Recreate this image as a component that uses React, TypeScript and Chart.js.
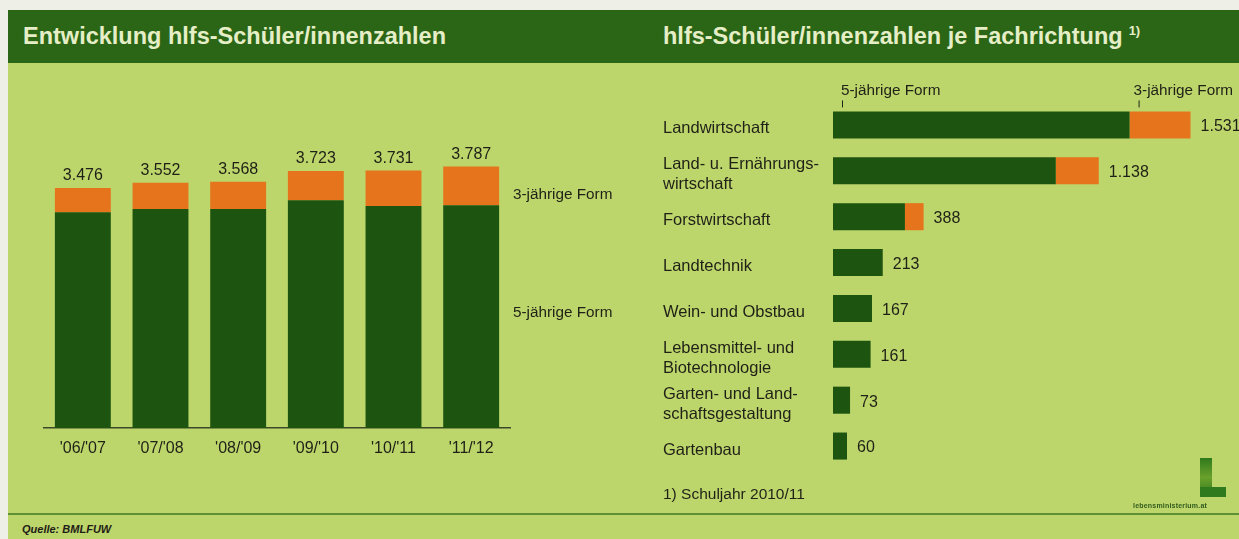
import React, { useEffect, useRef } from "react";
import { Chart, registerables } from "chart.js";

Chart.register(...registerables);

// ---------- data ----------
const schoolYears = ["'06/'07", "'07/'08", "'08/'09", "'09/'10", "'10/'11", "'11/'12"];
const fiveYearForm = [3125, 3170, 3170, 3300, 3215, 3225];
const threeYearForm = [351, 382, 398, 423, 516, 562];

const fields = [
  ["Landwirtschaft"],
  ["Land- u. Ernährungs-", "wirtschaft"],
  ["Forstwirtschaft"],
  ["Landtechnik"],
  ["Wein- und Obstbau"],
  ["Lebensmittel- und", "Biotechnologie"],
  ["Garten- und Land-", "schaftsgestaltung"],
  ["Gartenbau"],
];
const fieldFiveYear = [1270, 954, 308, 213, 167, 161, 73, 60];
const fieldThreeYear = [261, 184, 80, 0, 0, 0, 0, 0];

const seriesNames = ["5-jährige Form", "3-jährige Form"];

// ---------- style ----------
const DARK = "#1d5510";
const ORANGE = "#e5741d";
const BG = "#bdd66c";
const HEADER = "#2b6616";
const TEXT = "#1f2016";
const AXIS = "#3a4a28";
const FAMILY = '"Liberation Sans", Arial, Helvetica, sans-serif';

function fmt(n: number): string {
  return String(n).replace(/\B(?=(\d{3})+(?!\d))/g, ".");
}

function LeftChart() {
  const ref = useRef<HTMLCanvasElement | null>(null);
  useEffect(() => {
    if (!ref.current) return;
    const totalsPlugin = {
      id: "leftTotals",
      afterDatasetsDraw(chart: any) {
        const ctx = chart.ctx;
        const meta = chart.getDatasetMeta(1);
        ctx.save();
        ctx.font = `16px ${FAMILY}`;
        ctx.fillStyle = TEXT;
        ctx.textAlign = "center";
        ctx.textBaseline = "bottom";
        meta.data.forEach((el: any, i: number) => {
          const total = fiveYearForm[i] + threeYearForm[i];
          ctx.fillText(fmt(total), el.x, el.y - 4);
        });
        ctx.restore();
      },
    };
    const chart = new Chart(ref.current, {
      type: "bar",
      data: {
        labels: schoolYears,
        datasets: [
          { label: seriesNames[0], data: fiveYearForm, backgroundColor: DARK, barPercentage: 0.72, categoryPercentage: 1 },
          { label: seriesNames[1], data: threeYearForm, backgroundColor: ORANGE, barPercentage: 0.72, categoryPercentage: 1 },
        ],
      },
      options: {
        responsive: false,
        animation: false,
        events: [],
        layout: { padding: { left: 44, right: 110, top: 75, bottom: 40 } },
        plugins: { legend: { display: false }, tooltip: { enabled: false } },
        scales: {
          x: {
            stacked: true,
            grid: { display: false, drawTicks: false },
            border: { display: true, color: AXIS, width: 1.5 },
            ticks: { color: TEXT, font: { family: FAMILY, size: 16 }, padding: 11, maxRotation: 0, autoSkip: false },
            afterFit: (s: any) => {
              s.height = 40;
            },
          },
          y: { stacked: true, display: false, min: 0, max: 4200 },
        },
      } as any,
      plugins: [totalsPlugin],
    });
    return () => chart.destroy();
  }, []);
  return <canvas ref={ref} width={620} height={445} style={{ position: "absolute", left: 0, top: 63 }} />;
}

function RightChart() {
  const ref = useRef<HTMLCanvasElement | null>(null);
  useEffect(() => {
    if (!ref.current) return;
    const labelsPlugin = {
      id: "rightLabels",
      afterDatasetsDraw(chart: any) {
        const ctx = chart.ctx;
        const xs = chart.scales.x;
        const ys = chart.scales.y;
        const meta0 = chart.getDatasetMeta(0);
        ctx.save();
        ctx.fillStyle = TEXT;
        ctx.textAlign = "left";
        ctx.textBaseline = "middle";
        // category labels (from the y axis ticks)
        ctx.font = `16.5px ${FAMILY}`;
        const lineH = 20;
        ys.ticks.forEach((_t: any, i: number) => {
          const lines = fields[i];
          const cy = ys.getPixelForTick(i) + 4;
          lines.forEach((ln, k) => {
            ctx.fillText(ln, ys.left, cy + (k - (lines.length - 1) / 2) * lineH);
          });
        });
        // totals at bar ends
        ctx.font = `16px ${FAMILY}`;
        meta0.data.forEach((el: any, i: number) => {
          const total = fieldFiveYear[i] + fieldThreeYear[i];
          ctx.fillText(fmt(total), xs.getPixelForValue(total) + 10, el.y + 2);
        });
        // series annotations above first bar
        const first = meta0.data[0] as any;
        const top = first.y - first.height / 2;
        const x5 = xs.getPixelForValue(0) + 9;
        const x3 = xs.getPixelForValue(fieldFiveYear[0]) + 4;
        ctx.font = `15.3px ${FAMILY}`;
        ctx.fillText(seriesNames[0], x5 - 1, top - 21);
        ctx.fillText(seriesNames[1], x3, top - 21);
        ctx.strokeStyle = TEXT;
        ctx.lineWidth = 1;
        ctx.beginPath();
        ctx.moveTo(x5 + 0.5, top - 11);
        ctx.lineTo(x5 + 0.5, top - 4);
        ctx.moveTo(x3 + 5.5, top - 11);
        ctx.lineTo(x3 + 5.5, top - 4);
        ctx.stroke();
        ctx.restore();
      },
    };
    const chart = new Chart(ref.current, {
      type: "bar",
      data: {
        labels: fields,
        datasets: [
          { label: seriesNames[0], data: fieldFiveYear, backgroundColor: DARK, barPercentage: 0.59, categoryPercentage: 1 },
          { label: seriesNames[1], data: fieldThreeYear, backgroundColor: ORANGE, barPercentage: 0.59, categoryPercentage: 1 },
        ],
      },
      options: {
        indexAxis: "y",
        responsive: false,
        animation: false,
        events: [],
        layout: { padding: { left: 43, right: 9, top: 39, bottom: 39 } },
        plugins: { legend: { display: false }, tooltip: { enabled: false } },
        scales: {
          x: { stacked: true, display: false, min: 0, max: 1700 },
          y: {
            stacked: true,
            grid: { display: false, drawTicks: false },
            border: { display: false },
            ticks: { display: false, autoSkip: false },
            afterFit: (s: any) => {
              s.width = 170;
            },
          },
        },
      } as any,
      plugins: [labelsPlugin],
    });
    return () => chart.destroy();
  }, []);
  return <canvas ref={ref} width={619} height={445} style={{ position: "absolute", left: 620, top: 63 }} />;
}

export default function App() {
  const text = (extra: React.CSSProperties): React.CSSProperties => ({
    position: "absolute",
    fontFamily: FAMILY,
    color: TEXT,
    lineHeight: 1,
    whiteSpace: "nowrap",
    ...extra,
  });
  return (
    <div
      style={{
        position: "absolute",
        left: 0,
        top: 0,
        width: 1239,
        height: 539,
        overflow: "hidden",
        background: "#eef0e8",
      }}
    >
      <div style={{ position: "absolute", left: 8, top: 10, right: 0, bottom: 0, background: BG }} />
      <div style={{ position: "absolute", left: 8, top: 10, right: 0, height: 53, background: HEADER }} />
      <div style={text({ left: 23, top: 25, fontSize: 23.5, fontWeight: "bold", color: "#e6eec8" })}>
        Entwicklung hlfs-Schüler/innenzahlen
      </div>
      <div style={text({ left: 663, top: 25, fontSize: 23.5, fontWeight: "bold", color: "#e6eec8" })}>
        hlfs-Schüler/innenzahlen je Fachrichtung
        <span style={{ fontSize: 13, position: "relative", top: -9, marginLeft: 6 }}>1)</span>
      </div>

      <LeftChart />
      <RightChart />

      <div style={text({ left: 513, top: 186, fontSize: 15.3 })}>{seriesNames[1]}</div>
      <div style={text({ left: 513, top: 304, fontSize: 15.3 })}>{seriesNames[0]}</div>

      <div style={text({ left: 663, top: 486, fontSize: 15.5 })}>1) Schuljahr 2010/11</div>

      <div style={{ position: "absolute", left: 8, right: 0, top: 513, height: 2, background: "#5f8f35" }} />
      <div style={text({ left: 22, top: 524, fontSize: 11, fontWeight: "bold", fontStyle: "italic" })}>Quelle: BMLFUW</div>

      {/* logo */}
      <div
        style={{
          position: "absolute",
          left: 1200,
          top: 458,
          width: 12,
          height: 39,
          background: "linear-gradient(180deg, #2f7a1c 0%, #6aa02c 50%, #2f7a1c 100%)",
        }}
      />
      <div style={{ position: "absolute", left: 1200, top: 487, width: 26, height: 10, background: "#2f7a1c" }} />
      <div style={text({ left: 1133, top: 502, fontSize: 7, fontWeight: "bold", color: "#2f5a1c", letterSpacing: 0.2 })}>
        lebensministerium.at
      </div>
    </div>
  );
}
